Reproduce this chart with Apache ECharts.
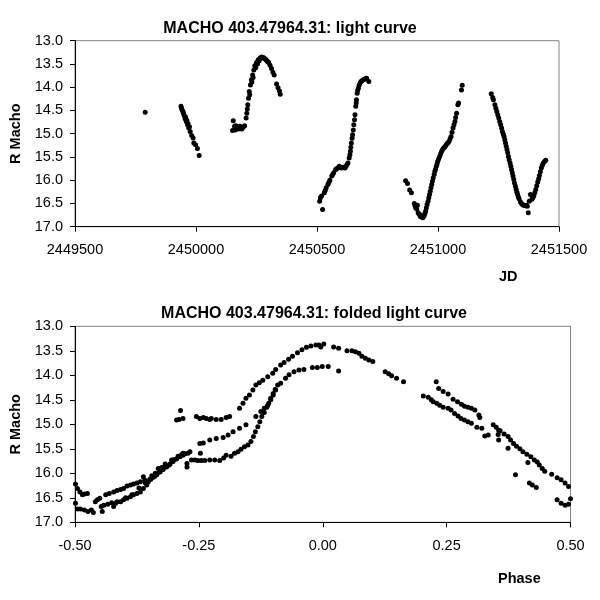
<!DOCTYPE html>
<html>
<head>
<meta charset="utf-8">
<script src="https://cdn.jsdelivr.net/npm/echarts@6/dist/echarts.min.js"></script>
<style>
  html, body { margin: 0; padding: 0; background: #fff; }
  #chart { width: 600px; height: 600px; }
</style>
</head>
<body>
<div id="chart"></div>
<script>
// light curve: Julian date and R magnitude
var jdValues = [
  2449790,
  2449938, 2449943, 2449948, 2449951, 2449955, 2449960, 2449965, 2449970, 2449976, 2449982, 2449988, 2449991, 2449998, 2450006, 2450013,
  2449940, 2449946, 2449957, 2449962, 2449967, 2449973,
  2450151, 2450154, 2450159, 2450165, 2450170, 2450176, 2450182, 2450189, 2450195, 2450201, 2450207, 2450210, 2450214, 2450217, 2450220,
  2450225, 2450229, 2450234, 2450239, 2450243, 2450250, 2450257, 2450265, 2450271, 2450277, 2450285, 2450293, 2450300, 2450306, 2450312,
  2450318, 2450323, 2450333, 2450339, 2450345, 2450348,
  2450162, 2450172, 2450186, 2450212, 2450222, 2450231, 2450236, 2450247, 2450254, 2450261, 2450268, 2450281, 2450289, 2450297,
  2450511, 2450514, 2450519, 2450523, 2450530, 2450538, 2450545, 2450553, 2450561, 2450569, 2450577, 2450585, 2450592, 2450600, 2450608,
  2450616, 2450624, 2450628, 2450633, 2450638, 2450642, 2450647, 2450652, 2450657, 2450660, 2450663, 2450666, 2450671, 2450678, 2450686,
  2450696, 2450705, 2450714,
  2450534, 2450549, 2450565, 2450581, 2450596, 2450612, 2450620, 2450636, 2450640, 2450645, 2450650, 2450655, 2450662, 2450668, 2450674,
  2450682, 2450691, 2450700,
  2450866, 2450874, 2450883, 2450890, 2450902, 2450908, 2450915, 2450918, 2450924, 2450930, 2450937, 2450943, 2450949, 2450955, 2450962,
  2450968, 2450974, 2450980, 2450987, 2450993, 2450999, 2451007, 2451015, 2451023, 2451030, 2451038, 2451046, 2451054, 2451062, 2451070,
  2451077, 2451082, 2451085, 2451097, 2451100,
  2450905, 2450912, 2450921, 2450927, 2450933, 2450940, 2450946, 2450952, 2450959, 2450965, 2450971, 2450977, 2450984, 2450990, 2450996,
  2451003, 2451011, 2451019, 2451027, 2451034, 2451042, 2451050, 2451058, 2451066, 2451073,
  2451220, 2451229, 2451235, 2451243, 2451251, 2451259, 2451266, 2451273, 2451279, 2451285, 2451291, 2451298, 2451304, 2451310, 2451316,
  2451323, 2451329, 2451335, 2451341, 2451349, 2451357, 2451365, 2451373, 2451377, 2451382, 2451388, 2451396, 2451404, 2451412, 2451419,
  2451427, 2451435, 2451445,
  2451226, 2451239, 2451247, 2451255, 2451263, 2451270, 2451276, 2451282, 2451288, 2451294, 2451301, 2451307, 2451313, 2451320, 2451326,
  2451332, 2451345, 2451353, 2451361, 2451369, 2451392, 2451400, 2451408, 2451416, 2451423, 2451431, 2451440
];
var rMacho = [
  14.54,
  14.41, 14.49, 14.56, 14.61, 14.68, 14.74, 14.81, 14.88, 14.95, 15.04, 15.09, 15.20, 15.24, 15.32, 15.47,
  14.45, 14.52, 14.64, 14.71, 14.78, 14.85,
  14.93, 14.72, 14.84, 14.83, 14.88, 14.90, 14.84, 14.90, 14.86, 14.83, 14.66, 14.56, 14.38, 14.24, 14.09,
  13.95, 13.84, 13.74, 13.63, 13.54, 13.47, 13.41, 13.37, 13.35, 13.36, 13.39, 13.43, 13.47, 13.53, 13.60,
  13.68, 13.74, 13.93, 14.01, 14.08, 14.15,
  14.92, 14.86, 14.88, 14.47, 14.16, 13.89, 13.79, 13.58, 13.50, 13.43, 13.38, 13.37, 13.41, 13.45,
  16.45, 16.38, 16.34, 16.63, 16.27, 16.16, 16.09, 16.00, 15.91, 15.84, 15.77, 15.74, 15.70, 15.74, 15.72,
  15.74, 15.66, 15.63, 15.52, 15.38, 15.20, 15.02, 14.81, 14.59, 14.41, 14.27, 14.13, 14.02, 13.91, 13.86,
  13.83, 13.81, 13.88,
  16.22, 16.05, 15.88, 15.76, 15.72, 15.73, 15.70, 15.45, 15.29, 15.10, 14.92, 14.70, 14.34, 14.07, 13.96,
  13.88, 13.84, 13.82,
  16.01, 16.07, 16.21, 16.27, 16.50, 16.59, 16.54, 16.70, 16.74, 16.77, 16.81, 16.76, 16.66, 16.52, 16.38,
  16.24, 16.09, 15.95, 15.81, 15.70, 15.59, 15.49, 15.38, 15.31, 15.27, 15.21, 15.16, 15.06, 14.88, 14.74,
  14.56, 14.38, 14.34, 14.06, 13.96,
  16.55, 16.62, 16.72, 16.78, 16.79, 16.78, 16.71, 16.59, 16.45, 16.31, 16.16, 16.02, 15.88, 15.76, 15.65,
  15.54, 15.43, 15.34, 15.29, 15.24, 15.19, 15.11, 14.97, 14.81, 14.65
];
rMacho = rMacho.concat([
  14.14, 14.27, 14.38, 14.52, 14.66, 14.81, 14.95, 15.06, 15.20, 15.34, 15.49, 15.63, 15.77, 15.91, 16.06,
  16.20, 16.31, 16.40, 16.47, 16.52, 16.54, 16.54, 16.70, 16.45, 16.31, 16.41, 16.34, 16.20, 16.04, 15.90,
  15.74, 15.63, 15.57,
  14.22, 14.45, 14.59, 14.74, 14.88, 15.01, 15.13, 15.27, 15.41, 15.56, 15.70, 15.84, 15.98, 16.13, 16.26,
  16.36, 16.50, 16.54, 16.55, 16.56, 16.38, 16.27, 16.12, 15.97, 15.82, 15.68, 15.60
]);

// folded light curve: phase and R magnitude
var phaseValues = [
  -0.499, -0.495, -0.490, -0.485, -0.481, -0.475, -0.499, -0.495, -0.489, -0.481, -0.474, -0.467, -0.463, -0.459, -0.455,
  -0.450, -0.447, -0.445, -0.442, -0.438, -0.431,
  -0.422, -0.415, -0.408, -0.402, -0.395, -0.388, -0.382, -0.375, -0.368, -0.362, -0.359,
  -0.422, -0.418, -0.415, -0.408, -0.402, -0.395, -0.388, -0.382, -0.375, -0.368, -0.362, -0.355, -0.352, -0.347, -0.342,
  -0.335, -0.328, -0.322, -0.315, -0.308, -0.302, -0.295, -0.288, -0.282, -0.272, -0.268,
  -0.332, -0.318, -0.305, -0.292, -0.282, -0.274, -0.274, -0.345, -0.338, -0.325, -0.310,
  -0.295, -0.290, -0.287, -0.282, -0.255, -0.248, -0.241, -0.235, -0.228, -0.225, -0.215, -0.205, -0.195, -0.188,
  -0.265, -0.258, -0.252, -0.245, -0.238, -0.228, -0.218, -0.208, -0.200, -0.195, -0.185, -0.178, -0.171, -0.165, -0.158,
  -0.151, -0.145, -0.140, -0.136, -0.131, -0.127, -0.123, -0.118, -0.113, -0.109, -0.105, -0.100, -0.096, -0.091,
  -0.248, -0.241, -0.247, -0.228, -0.215, -0.201, -0.191, -0.181, -0.168, -0.155, -0.135, -0.125, -0.118, -0.111, -0.105,
  -0.100, -0.095, -0.085, -0.075, -0.068, -0.058, -0.048, -0.038, -0.021, -0.011, -0.001, 0.011, 0.032,
  -0.168, -0.161, -0.155, -0.148, -0.141, -0.135, -0.128, -0.121, -0.111, -0.101, -0.095, -0.085, -0.078, -0.069, -0.061,
  -0.051, -0.042, -0.033, -0.024, -0.014, -0.008, -0.004, 0.002, 0.022, 0.032, 0.049, 0.059, 0.066, 0.073, 0.079,
  0.086, 0.093, 0.101, 0.126, 0.133, 0.139, 0.149, 0.163,
  0.229, 0.234, 0.243, 0.253, 0.263, 0.272, 0.280, 0.286, 0.293, 0.300, 0.307, 0.315, 0.317,
  0.203, 0.213, 0.219, 0.223, 0.230, 0.236, 0.243, 0.253, 0.259, 0.266, 0.273, 0.279, 0.286, 0.293, 0.300,
  0.311, 0.321, 0.327, 0.334, 0.344, 0.350, 0.355, 0.355, 0.358, 0.366, 0.374, 0.379, 0.385, 0.391, 0.398,
  0.404, 0.412, 0.420, 0.427, 0.433, 0.437, 0.443, 0.448, 0.462, 0.473, 0.481, 0.489, 0.496,
  0.354, 0.374, 0.389, 0.414, 0.417, 0.423, 0.431, 0.473, 0.481, 0.489, 0.496, 0.500,
  -0.434, -0.426, -0.398, -0.385, -0.371, -0.358, -0.349, -0.339, -0.330, -0.318, -0.300, -0.285, -0.278
];
var foldedMag = [
  16.22, 16.31, 16.38, 16.44, 16.42, 16.41, 16.61, 16.73, 16.73, 16.75, 16.78, 16.75, 16.80, 16.58, 16.54,
  16.51, 16.68, 16.78, 16.65, 16.44, 16.41,
  16.38, 16.35, 16.33, 16.31, 16.26, 16.24, 16.22, 16.20, 16.17, 16.07, 16.14,
  16.68, 16.61, 16.58, 16.58, 16.54, 16.51, 16.48, 16.44, 16.41, 16.38, 16.31, 16.24, 16.17, 16.12, 16.08,
  16.03, 15.97, 15.92, 15.87, 15.81, 15.76, 15.71, 15.66, 15.63, 15.59, 15.56,
  15.90, 15.81, 15.73, 15.65, 15.59, 15.80, 15.87, 16.05, 16.00, 15.88, 15.83,
  14.91, 14.90, 14.72, 14.88, 14.84, 14.88, 14.86, 14.88, 14.90, 14.88, 14.90, 14.90, 14.86, 14.84,
  15.73, 15.73, 15.74, 15.74, 15.74, 15.73, 15.73, 15.74, 15.69, 15.63, 15.65, 15.59, 15.56, 15.51, 15.46,
  15.42, 15.35, 15.25, 15.15, 15.05, 14.95, 14.84, 14.76, 14.65, 14.57, 14.47, 14.37, 14.29, 14.20,
  15.39, 15.38, 15.59, 15.32, 15.29, 15.27, 15.22, 15.15, 15.08, 15.01, 14.84, 14.74, 14.67, 14.61, 14.50,
  14.40, 14.30, 14.16, 14.06, 13.99, 13.93, 13.89, 13.88, 13.84, 13.84, 13.82, 13.82, 13.91,
  14.67, 14.57, 14.47, 14.40, 14.30, 14.20, 14.15, 14.10, 14.03, 13.96, 13.88, 13.79, 13.74, 13.67, 13.61,
  13.54, 13.48, 13.43, 13.40, 13.38, 13.38, 13.42, 13.36, 13.42, 13.45, 13.50, 13.50, 13.52, 13.55, 13.61,
  13.65, 13.69, 13.72, 13.93, 13.97, 14.01, 14.06, 14.13,
  14.13, 14.27, 14.33, 14.38, 14.49, 14.54, 14.59, 14.63, 14.65, 14.67, 14.71, 14.81, 14.86,
  14.42, 14.45, 14.50, 14.54, 14.57, 14.61, 14.65, 14.67, 14.71, 14.78, 14.83, 14.88, 14.91, 14.95, 14.98,
  15.06, 15.08, 15.24, 15.22, 15.01, 15.06, 15.12, 15.32, 15.13, 15.20, 15.25, 15.32, 15.39, 15.45, 15.50,
  15.56, 15.61, 15.66, 15.73, 15.77, 15.83, 15.90, 15.96, 16.02, 16.09, 16.13, 16.20, 16.27,
  15.21, 15.49, 16.03, 15.78, 16.20, 16.24, 16.29, 16.54, 16.61, 16.65, 16.63, 16.52,
  16.63, 16.60, 16.50, 16.44, 16.30, 16.20, 16.12, 16.06, 15.98, 15.86, 15.72, 15.62, 15.60
];

var FONT = '"Liberation Sans", Arial, sans-serif';

function pairs(xs, ys) {
  return xs.map(function (x, i) { return [x, ys[i]]; });
}

function magAxis(gridIndex) {
  return {
    gridIndex: gridIndex,
    type: 'value',
    inverse: true,
    min: 13,
    max: 17,
    interval: 0.5,
    name: 'R Macho',
    nameLocation: 'middle',
    nameGap: 52,
    nameTextStyle: { fontFamily: FONT, fontWeight: 'bold', fontSize: 14.5, color: '#000' },
    axisLine: { show: true, onZero: false, lineStyle: { color: '#000', width: 1 } },
    axisTick: { show: true, length: 5, lineStyle: { color: '#000' } },
    splitLine: { show: false },
    axisLabel: {
      fontFamily: FONT, fontSize: 14.5, color: '#000', margin: 12,
      formatter: function (v) { return v.toFixed(1); }
    }
  };
}

var myChart = echarts.init(document.getElementById('chart'));
myChart.setOption({
  backgroundColor: '#fff',
  animation: false,
  title: [
    {
      text: 'MACHO 403.47964.31: light curve',
      left: 285, top: 16, textAlign: 'center',
      textStyle: { fontFamily: FONT, fontWeight: 'bold', fontSize: 16, color: '#000' }
    },
    {
      text: 'MACHO 403.47964.31: folded light curve',
      left: 309, top: 301, textAlign: 'center',
      textStyle: { fontFamily: FONT, fontWeight: 'bold', fontSize: 16, color: '#000' }
    }
  ],
  graphic: [
    {
      type: 'text', left: 499, top: 269,
      style: { text: 'JD', font: 'bold 14.5px ' + FONT, fill: '#000' }
    },
    {
      type: 'text', left: 498, top: 571,
      style: { text: 'Phase', font: 'bold 14.5px ' + FONT, fill: '#000' }
    }
  ],
  grid: [
    { left: 69.5, top: 40.7, width: 489.5, height: 186, show: true, borderColor: '#808080', borderWidth: 1 },
    { left: 71, top: 326.3, width: 499.5, height: 196, show: true, borderColor: '#808080', borderWidth: 1 }
  ],
  xAxis: [
    {
      gridIndex: 0,
      type: 'value',
      min: 2449500,
      max: 2451500,
      interval: 500,
      axisLine: { show: true, onZero: false, lineStyle: { color: '#000' } },
      axisTick: { show: true, length: 5, lineStyle: { color: '#000' } },
      splitLine: { show: false },
      axisLabel: {
        fontFamily: FONT, fontSize: 14.5, color: '#000', margin: 16,
        formatter: function (v) { return String(v); }
      }
    },
    {
      gridIndex: 1,
      type: 'value',
      min: -0.5,
      max: 0.5,
      interval: 0.25,
      axisLine: { show: true, onZero: false, lineStyle: { color: '#000' } },
      axisTick: { show: true, length: 5, lineStyle: { color: '#000' } },
      splitLine: { show: false },
      axisLabel: {
        fontFamily: FONT, fontSize: 14.5, color: '#000', margin: 16,
        formatter: function (v) { return v.toFixed(2); }
      }
    }
  ],
  yAxis: [magAxis(0), magAxis(1)],
  series: [
    {
      name: 'light curve',
      type: 'scatter',
      xAxisIndex: 0,
      yAxisIndex: 0,
      symbol: 'circle',
      symbolSize: 5,
      itemStyle: { color: '#000', opacity: 1 },
      data: pairs(jdValues, rMacho)
    },
    {
      name: 'folded light curve',
      type: 'scatter',
      xAxisIndex: 1,
      yAxisIndex: 1,
      symbol: 'circle',
      symbolSize: 5,
      itemStyle: { color: '#000', opacity: 1 },
      data: pairs(phaseValues, foldedMag)
    }
  ]
});
</script>
</body>
</html>
